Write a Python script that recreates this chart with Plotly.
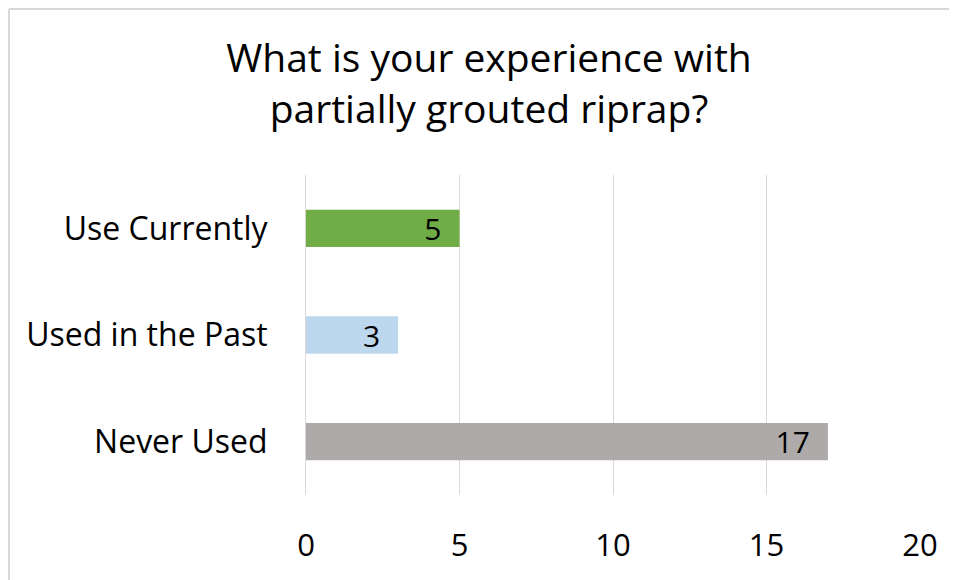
import plotly.graph_objects as go

# Survey answers, top to bottom as shown
answers = ['Use Currently', 'Used in the Past', 'Never Used']
counts = [5, 3, 17]
colors = ['#70AD47', '#BDD7EE', '#AEAAAA']
x_ticks = [0, 5, 10, 15, 20]

FONT = '"Open Sans", Lato, sans-serif'

# the page body has an 8px margin, so the figure is sized to fit the window
W, H = 949, 572

fig = go.Figure(go.Bar(
    x=counts, y=answers, orientation='h',
    marker=dict(color=colors, line=dict(width=0)),
    text=counts, texttemplate='%{x}\u2002',
    textposition='inside', insidetextanchor='end', textangle=0,
    insidetextfont=dict(color='black', size=30, family=FONT),
    constraintext='none', hoverinfo='skip',
))

# chart frame: only the top and left edges are visible in the picture
frame = dict(type='line', xref='paper', yref='paper', layer='below',
             line=dict(color='#D9D9D9', width=2))

fig.update_layout(
    width=W, height=H,
    margin=dict(l=298, r=37, t=167, b=85),
    paper_bgcolor='white', plot_bgcolor='white',
    font=dict(family=FONT, size=32, color='black'),
    title=dict(
        text='What is your experience with<br>partially grouted riprap?',
        x=481 / W, xanchor='center', y=1 - 64 / H, yanchor='middle',
        font=dict(size=39, color='black', family=FONT),
    ),
    bargap=0.65,
    showlegend=False,
    shapes=[
        dict(frame, x0=-0.4837, x1=2, y0=1.519, y1=1.519),
        dict(frame, x0=-0.4837, x1=-0.4837, y0=-1, y1=1.519),
    ],
)

fig.update_xaxes(
    range=[0, 20], tickvals=x_ticks, showgrid=True, gridcolor='#D9D9D9',
    gridwidth=1, zeroline=False, showline=False, ticks='',
    ticklabelstandoff=29, tickfont=dict(size=31),
)
fig.update_yaxes(
    categoryorder='array', categoryarray=answers, autorange='reversed',
    showline=True, linecolor='#D9D9D9', linewidth=1, ticks='',
    ticklabelstandoff=31, tickfont=dict(size=32), showgrid=False,
)

fig.write_html("out.html")
